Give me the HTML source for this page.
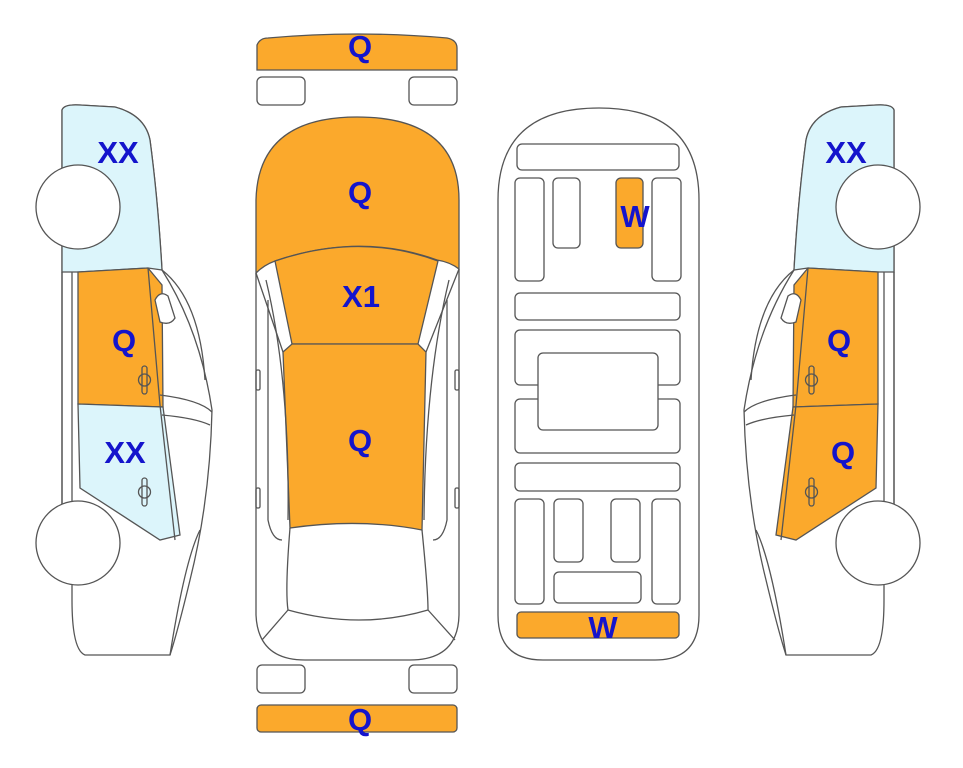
<!DOCTYPE html>
<html><head><meta charset="utf-8"><style>
html,body{margin:0;padding:0;background:#fff}
svg{display:block}
text{font-family:"Liberation Sans",Arial,sans-serif;font-weight:bold;font-size:31px;fill:#1414cc;text-anchor:middle}
</style></head><body>
<svg width="963" height="768" viewBox="0 0 963 768" xmlns="http://www.w3.org/2000/svg">
<g stroke="#555" stroke-width="1.3" fill="none">
<g id="lc">
<path d="M62,110 Q64,104 80,105 L115,107 Q145,115 150,140 Q158,200 162,270 Q200,330 212,410 Q210,500 190,580 Q178,630 170,655 L85,655 Q72,650 72,600 L72,560 L62,510 L62,110 Z" fill="#fff"/>
<path d="M62,110 Q64,104 80,105 L115,107 Q145,115 150,140 Q158,200 162,270 L148,268 L78,272 L62,272 Z" fill="#dcf5fb"/>
<path d="M78,272 L148,268 L162,285 L163,407 L78,404 Z" fill="#fba92c"/>
<path d="M78,404 L163,407 L180,535 L160,540 L80,488 Z" fill="#dcf5fb"/>
<path d="M148,268 L160,405 L175,540"/>
<path d="M162,270 Q200,300 205,380"/>
<path d="M160,395 Q200,400 212,412 M162,415 Q195,418 210,425"/>
<path d="M170,655 Q185,560 200,530"/>
<path d="M62,272 L62,510 M72,272 L72,505"/>
<path d="M155,300 Q160,290 168,296 L175,318 Q170,326 160,322 Z" fill="#fff"/>
<rect x="142" y="366" width="5" height="28" rx="2.5"/><circle cx="144.5" cy="380" r="6"/>
<rect x="142" y="478" width="5" height="28" rx="2.5"/><circle cx="144.5" cy="492" r="6"/>
<circle cx="78" cy="207" r="42" fill="#fff"/>
<circle cx="78" cy="543" r="42" fill="#fff"/>
</g>
<g transform="translate(956,0) scale(-1,1)">
<path d="M62,110 Q64,104 80,105 L115,107 Q145,115 150,140 Q158,200 162,270 Q200,330 212,410 Q210,500 190,580 Q178,630 170,655 L85,655 Q72,650 72,600 L72,560 L62,510 L62,110 Z" fill="#fff"/>
<path d="M62,110 Q64,104 80,105 L115,107 Q145,115 150,140 Q158,200 162,270 L148,268 L78,272 L62,272 Z" fill="#dcf5fb"/>
<path d="M78,272 L148,268 L162,285 L163,407 L78,404 Z" fill="#fba92c"/>
<path d="M78,404 L163,407 L180,535 L160,540 L80,488 Z" fill="#fba92c"/>
<path d="M148,268 L160,405 L175,540"/>
<path d="M162,270 Q200,300 205,380"/>
<path d="M160,395 Q200,400 212,412 M162,415 Q195,418 210,425"/>
<path d="M170,655 Q185,560 200,530"/>
<path d="M62,272 L62,510 M72,272 L72,505"/>
<path d="M155,300 Q160,290 168,296 L175,318 Q170,326 160,322 Z" fill="#fff"/>
<rect x="142" y="366" width="5" height="28" rx="2.5"/><circle cx="144.5" cy="380" r="6"/>
<rect x="142" y="478" width="5" height="28" rx="2.5"/><circle cx="144.5" cy="492" r="6"/>
<circle cx="78" cy="207" r="42" fill="#fff"/>
<circle cx="78" cy="543" r="42" fill="#fff"/>
</g>
<path d="M257,45 Q260,38 268,38 Q357,30 447,38 Q457,40 457,48 L457,70 L257,70 Z" fill="#fba92c"/>
<rect x="257" y="77" width="48" height="28" rx="5"/>
<rect x="409" y="77" width="48" height="28" rx="5"/>
<path d="M256,273 L256,615 Q258,660 305,660 L410,660 Q458,660 459,615 L459,269" fill="#fff"/>
<path d="M256,273 L256,200 Q258,117 357,117 Q459,117 459,200 L459,269 Q450,262 437,260 Q360,232 275,261 Q264,265 256,273 Z" fill="#fba92c"/>
<path d="M275,261 Q360,232 438,261 L418,344 L292,344 Z" fill="#fba92c"/>
<path d="M283,352 L292,344 L418,344 L426,352 L422,530 Q360,518 290,528 Z" fill="#fba92c"/>
<path d="M256,273 L283,352 M459,269 L426,352"/>
<path d="M266,280 Q290,380 288,520 M449,280 Q425,380 424,520"/>
<path d="M290,528 Q285,590 288,610 Q360,630 428,610 Q428,590 422,530"/>
<path d="M288,610 L262,640 M428,610 L455,640"/>
<path d="M268,300 L268,520 Q272,540 282,540 M447,300 L447,520 Q443,540 433,540"/>
<rect x="256" y="370" width="4" height="20" rx="1.5"/><rect x="455" y="370" width="4" height="20" rx="1.5"/>
<rect x="256" y="488" width="4" height="20" rx="1.5"/><rect x="455" y="488" width="4" height="20" rx="1.5"/>
<rect x="257" y="665" width="48" height="28" rx="5"/>
<rect x="409" y="665" width="48" height="28" rx="5"/>
<rect x="257" y="705" width="200" height="27" rx="4" fill="#fba92c"/>
<path d="M498,200 Q498,108 599,108 Q699,108 699,200 L699,615 Q699,660 655,660 L543,660 Q498,660 498,615 Z" fill="#fff"/>
<rect x="517" y="144" width="162" height="26" rx="5"/>
<rect x="515" y="178" width="29" height="103" rx="5"/>
<rect x="553" y="178" width="27" height="70" rx="5"/>
<rect x="616" y="178" width="27" height="70" rx="5" fill="#fba92c"/>
<rect x="652" y="178" width="29" height="103" rx="5"/>
<rect x="515" y="293" width="165" height="27" rx="5"/>
<rect x="515" y="330" width="165" height="55" rx="5"/>
<rect x="515" y="399" width="165" height="54" rx="5"/>
<rect x="538" y="353" width="120" height="77" rx="5" fill="#fff"/>
<rect x="515" y="463" width="165" height="28" rx="5"/>
<rect x="515" y="499" width="29" height="105" rx="5"/>
<rect x="554" y="499" width="29" height="63" rx="5"/>
<rect x="611" y="499" width="29" height="63" rx="5"/>
<rect x="652" y="499" width="28" height="105" rx="5"/>
<rect x="554" y="572" width="87" height="31" rx="5"/>
<rect x="517" y="612" width="162" height="26" rx="4" fill="#fba92c"/>
</g>
<text x="118" y="163">XX</text>
<text x="124" y="351">Q</text>
<text x="125" y="463">XX</text>
<text x="846" y="163">XX</text>
<text x="839" y="351">Q</text>
<text x="843" y="463">Q</text>
<text x="360" y="57">Q</text>
<text x="360" y="203">Q</text>
<text x="361" y="307">X1</text>
<text x="360" y="451">Q</text>
<text x="360" y="730">Q</text>
<text x="635" y="227">W</text>
<text x="603" y="638">W</text>
</svg>
</body></html>
